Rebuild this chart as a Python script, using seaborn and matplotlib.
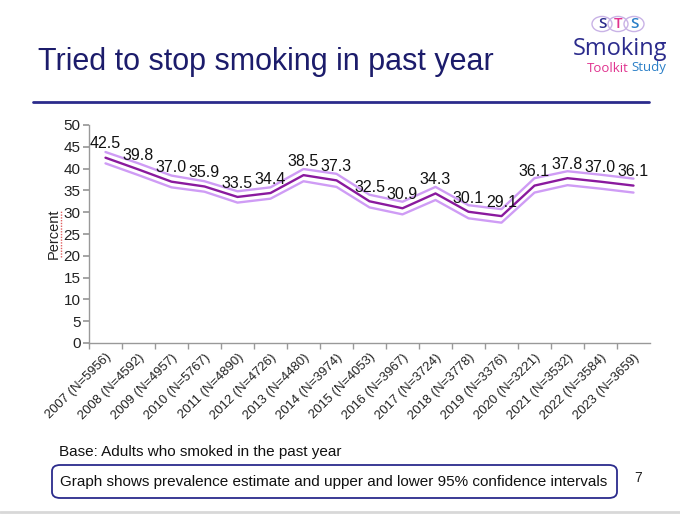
import numpy as np
import pandas as pd
import matplotlib
matplotlib.use("Agg")
import matplotlib.pyplot as plt
import seaborn as sns
from matplotlib.patches import FancyBboxPatch, Circle
from matplotlib.lines import Line2D

# data
years = ["2007", "2008", "2009", "2010", "2011", "2012", "2013", "2014", "2015",
         "2016", "2017", "2018", "2019", "2020", "2021", "2022", "2023"]
sample_n = [5956, 4592, 4957, 5767, 4890, 4726, 4480, 3974, 4053,
            3967, 3724, 3778, 3376, 3221, 3532, 3584, 3659]
estimate = [42.5, 39.8, 37.0, 35.9, 33.5, 34.4, 38.5, 37.3, 32.5,
            30.9, 34.3, 30.1, 29.1, 36.1, 37.8, 37.0, 36.1]
lower_ci = [41.2, 38.5, 35.7, 34.7, 32.2, 33.1, 37.1, 35.8, 31.1,
            29.5, 32.8, 28.6, 27.6, 34.5, 36.2, 35.4, 34.5]
upper_ci = [43.8, 41.2, 38.4, 37.1, 34.8, 35.7, 39.9, 38.8, 34.0,
            32.4, 35.8, 31.6, 30.7, 37.8, 39.4, 38.6, 37.7]

labels = [f"{y} (N={n})" for y, n in zip(years, sample_n)]

df = pd.DataFrame({
    "label": labels * 3,
    "value": estimate + lower_ci + upper_ci,
    "series": ["est"] * len(labels) + ["lo"] * len(labels) + ["hi"] * len(labels),
})

sns.set_theme(style="white")
plt.rcParams["font.family"] = ["Liberation Sans", "DejaVu Sans"]

navy = "#1c1c6b"
fig = plt.figure(figsize=(6.8, 5.14), dpi=100)
ax = fig.add_axes([89 / 680, 1 - 343 / 514, 561 / 680, 218 / 514])

sns.lineplot(data=df, x="label", y="value", hue="series", sort=False,
             palette={"est": "#8a1a9e", "lo": "#cf9cf5", "hi": "#cf9cf5"},
             hue_order=["lo", "hi", "est"], linewidth=1.7, legend=False, ax=ax)

for i, v in enumerate(estimate):
    ax.annotate(f"{v:.1f}", (i, v), xytext=(0, 4.5), textcoords="offset points",
                ha="center", va="bottom", fontsize=11.5, color="#111111")

ax.set_ylim(0, 50)
ax.set_yticks(range(0, 51, 5))
ax.set_xlim(-0.5, len(years) - 0.5)
ax.set_xticks(range(len(years)))
ax.set_xticklabels(labels, rotation=45, ha="right", rotation_mode="anchor",
                   fontsize=9.4, color="#222222")
ax.set_xticks(np.arange(-0.5, len(years) - 0.9, 1), minor=True)
ax.tick_params(axis="x", which="major", length=0, pad=6)
ax.tick_params(axis="x", which="minor", length=4, color="#999999", bottom=True)
ax.tick_params(axis="y", length=4, color="#999999", left=True, labelsize=11,
               labelcolor="#222222", pad=2)
ax.set_xlabel("")
ax.set_ylabel("Percent", fontsize=10.5, labelpad=2, color="#222222")
for s in ["top", "right"]:
    ax.spines[s].set_visible(False)
for s in ["left", "bottom"]:
    ax.spines[s].set_color("#999999")
    ax.spines[s].set_linewidth(1)

# slide furniture
fig.text(38 / 680, 1 - 62 / 514, "Tried to stop smoking in past year", fontsize=22,
         color=navy, va="center", ha="left")
fig.add_artist(Line2D([33 / 680, 649 / 680], [1 - 102 / 514] * 2, color="#2b2b8c", lw=2))
# spell-check squiggle next to the axis title
fig.add_artist(Line2D([61 / 680] * 2, [1 - 257 / 514, 1 - 210 / 514], color="#e06060",
                      lw=1, ls=(0, (1, 1))))

# logo
for cx, letter, col in [(602, "S", "#2b2b8c"), (618, "T", "#e0338f"), (634, "S", "#2a7fc7")]:
    fig.add_artist(Circle((cx / 680, 1 - 24 / 514), 10 / 680, transform=fig.transFigure,
                          fill=False, ec="#c9b3e6", lw=1))
    fig.text(cx / 680, 1 - 24 / 514, letter, fontsize=11, color=col,
             ha="center", va="center", family="Open Sans", weight="semibold")
fig.text(620 / 680, 1 - 49 / 514, "Smoking", fontsize=17, color="#2b2b8c",
         ha="center", va="center", family="Open Sans")
fig.text(629 / 680, 1 - 68 / 514, "Toolkit", fontsize=9.5, color="#e0338f",
         ha="right", va="center", family="Open Sans")
fig.text(631 / 680, 1 - 68 / 514, "Study", fontsize=9.5, color="#2a7fc7",
         ha="left", va="center", family="Open Sans")

fig.text(59 / 680, 1 - 452 / 514, "Base: Adults who smoked in the past year",
         fontsize=11, color="#111111", va="center")
box = FancyBboxPatch((52 / 680, 1 - 498 / 514), 565 / 680, 33 / 514,
                     boxstyle="round,pad=0,rounding_size=0.012", transform=fig.transFigure,
                     fc="white", ec="#2b2b8c", lw=1.3)
fig.add_artist(box)
fig.text(334 / 680, 1 - 482 / 514,
         "Graph shows prevalence estimate and upper and lower 95% confidence intervals",
         fontsize=11, color="#111111", ha="center", va="center")
fig.text(638 / 680, 1 - 478 / 514, "7", fontsize=10, color="#222222", ha="center", va="center")
fig.add_artist(Line2D([0, 1], [1 - 512 / 514] * 2, color="#d8d8d8", lw=2))

fig.savefig("out.png", dpi=100)
